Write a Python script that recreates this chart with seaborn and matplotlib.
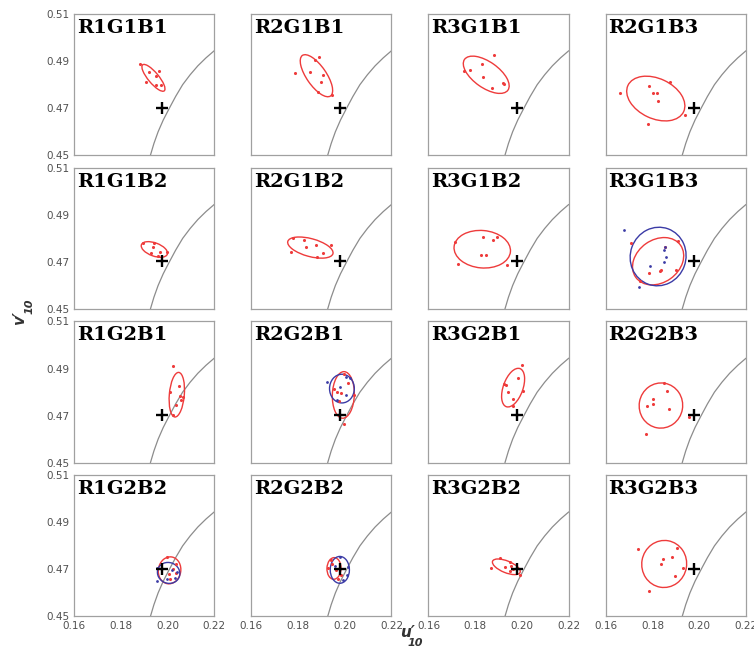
import matplotlib
matplotlib.use("Agg")
import matplotlib.pyplot as plt
from matplotlib.patches import Ellipse
import seaborn as sns
import pandas as pd

# ---------------- data ----------------
panel_names = ["R1G1B1", "R2G1B1", "R3G1B1", "R2G1B3",
               "R1G1B2", "R2G1B2", "R3G1B2", "R3G1B3",
               "R1G2B1", "R2G2B1", "R3G2B1", "R2G2B3",
               "R1G2B2", "R2G2B2", "R3G2B2", "R3G2B3"]

x_ticks = [0.16, 0.18, 0.20, 0.22]
y_ticks = [0.45, 0.47, 0.49, 0.51]
x_tick_labels = ["0.16", "0.18", "0.20", "0.22"]
y_tick_labels = ["0.45", "0.47", "0.49", "0.51"]

# white point (black plus)
white_u = 0.1978
white_v = 0.4702

# reference locus (gray curve)
locus_u = [0.1927, 0.1942, 0.1960, 0.1982, 0.2008, 0.2035, 0.2065, 0.2097, 0.2130, 0.2165, 0.2200]
locus_v = [0.4500, 0.4550, 0.4600, 0.4650, 0.4700, 0.4750, 0.4800, 0.4842, 0.4880, 0.4914, 0.4944]

red_u = [
    [0.1884, 0.1923, 0.1964, 0.1953, 0.1908, 0.1951, 0.1972],
    [0.1788, 0.1851, 0.1873, 0.1890, 0.1907, 0.1897, 0.1886, 0.1946],
    [0.1879, 0.1827, 0.1777, 0.1752, 0.1832, 0.1873, 0.1918, 0.1921],
    [0.1663, 0.1786, 0.1801, 0.1819, 0.1825, 0.1873, 0.1938, 0.1782],
    [0.1897, 0.1944, 0.1940, 0.1931, 0.1966, 0.1998, 0.1960],
    [0.1778, 0.1827, 0.1769, 0.1836, 0.1877, 0.1940, 0.1907, 0.1882],
    [0.1715, 0.1834, 0.1877, 0.1892, 0.1825, 0.1845, 0.1726, 0.1936],
    [0.1710, 0.1910, 0.1855, 0.1783, 0.1830, 0.1836, 0.1901, 0.1747],
    [0.2025, 0.2050, 0.2009, 0.2053, 0.2066, 0.2059, 0.2035, 0.2022],
    [0.1953, 0.1966, 0.1986, 0.1975, 0.2014, 0.1996, 0.2040, 0.1998],
    [0.2001, 0.1983, 0.1923, 0.1933, 0.1938, 0.2003, 0.1962, 0.1960],
    [0.1849, 0.1862, 0.1801, 0.1803, 0.1777, 0.1869, 0.1773, 0.1957],
    [0.2000, 0.2038, 0.2007, 0.2011, 0.2038, 0.2024],
    [0.1930, 0.1941, 0.1963, 0.1984, 0.1970, 0.1945],
    [0.1904, 0.1950, 0.1867, 0.1926, 0.1954, 0.1950, 0.1993, 0.1960],
    [0.1737, 0.1903, 0.1843, 0.1883, 0.1837, 0.1930, 0.1897, 0.1783],
]
red_v = [
    [0.4887, 0.4855, 0.4858, 0.4835, 0.4812, 0.4798, 0.4797],
    [0.4848, 0.4852, 0.4903, 0.4916, 0.4843, 0.4811, 0.4770, 0.4755],
    [0.4926, 0.4887, 0.4862, 0.4858, 0.4832, 0.4787, 0.4806, 0.4801],
    [0.4765, 0.4794, 0.4765, 0.4763, 0.4731, 0.4812, 0.4672, 0.4632],
    [0.4780, 0.4780, 0.4763, 0.4739, 0.4741, 0.4744, 0.4726],
    [0.4802, 0.4794, 0.4744, 0.4763, 0.4772, 0.4772, 0.4739, 0.4723],
    [0.4784, 0.4808, 0.4794, 0.4805, 0.4729, 0.4729, 0.4690, 0.4685],
    [0.4782, 0.4788, 0.4765, 0.4655, 0.4662, 0.4664, 0.4667, 0.4617],
    [0.4913, 0.4826, 0.4802, 0.4784, 0.4781, 0.4765, 0.4747, 0.4702],
    [0.4814, 0.4802, 0.4795, 0.4763, 0.4838, 0.4663, 0.4788, 0.4876],
    [0.4916, 0.4862, 0.4833, 0.4831, 0.4799, 0.4805, 0.4771, 0.4743],
    [0.4839, 0.4805, 0.4770, 0.4751, 0.4740, 0.4730, 0.4622, 0.4696],
    [0.4752, 0.4723, 0.4680, 0.4661, 0.4684, 0.4700],
    [0.4708, 0.4740, 0.4698, 0.4677, 0.4660, 0.4725],
    [0.4750, 0.4733, 0.4705, 0.4712, 0.4715, 0.4695, 0.4677, 0.4700],
    [0.4785, 0.4790, 0.4743, 0.4754, 0.4723, 0.4705, 0.4674, 0.4609],
]

blue_u = [[], [], [], [],
          [], [], [], [0.1680, 0.1854, 0.1851, 0.1858, 0.1851, 0.1789, 0.1741],
          [], [0.1923, 0.1979, 0.2005, 0.2024, 0.2007, 0.1966], [], [],
          [0.1956, 0.1956, 0.2021, 0.2031, 0.1996, 0.2040],
          [0.1981, 0.2012, 0.2008, 0.1991, 0.1958], [], []]
blue_v = [[], [], [], [],
          [], [], [], [0.4834, 0.4765, 0.4749, 0.4721, 0.4701, 0.4684, 0.4595],
          [], [0.4842, 0.4823, 0.4865, 0.4859, 0.4788, 0.4767], [], [],
          [0.4705, 0.4651, 0.4698, 0.4665, 0.4658, 0.4690],
          [0.4754, 0.4712, 0.4677, 0.4656, 0.4715], [], []]

# ellipses: (centre u, centre v, width, height, angle in degrees)
red_ellipses = [
    (0.1940, 0.4829, 0.0144, 0.0045, -50),
    (0.1879, 0.4838, 0.0210, 0.0084, -55),
    (0.1847, 0.4842, 0.0227, 0.0110, -35),
    (0.1814, 0.4741, 0.0263, 0.0170, -25),
    (0.1944, 0.4753, 0.0118, 0.0056, -20),
    (0.1853, 0.4761, 0.0200, 0.0076, -15),
    (0.1830, 0.4754, 0.0242, 0.0159, -5),
    (0.1824, 0.4703, 0.0235, 0.0182, 35),
    (0.2040, 0.4789, 0.0190, 0.0064, 85),
    (0.1994, 0.4788, 0.0198, 0.0094, 88),
    (0.1962, 0.4819, 0.0172, 0.0084, 70),
    (0.1836, 0.4743, 0.0192, 0.0186, 80),
    (0.2009, 0.4696, 0.0115, 0.0096, 80),
    (0.1954, 0.4704, 0.0092, 0.0060, 88),
    (0.1933, 0.4711, 0.0127, 0.0050, -22),
    (0.1850, 0.4723, 0.0200, 0.0192, 80),
]
blue_ellipses = [None, None, None, None,
                 None, None, None, (0.1824, 0.4723, 0.0250, 0.0238, 70),
                 None, (0.1988, 0.4815, 0.0122, 0.0106, 90), None, None,
                 (0.2005, 0.4685, 0.0097, 0.0088, -20),
                 (0.1979, 0.4698, 0.0114, 0.0082, 90), None, None]

# ---------------- style ----------------
RED = "#ee3b3b"
BLUE = "#3b3ba6"
GRAY_SPINE = "#a0a0a0"

sns.set_theme(style="white")
plt.rcParams["font.family"] = ["DejaVu Sans"]

fig, axes = plt.subplots(4, 4, figsize=(7.54, 6.55), dpi=100)
fig.subplots_adjust(left=0.0981, right=0.9894, top=0.9786, bottom=0.0588,
                    wspace=0.264, hspace=0.088)

locus_df = pd.DataFrame({"u": locus_u, "v": locus_v})

for i, ax in enumerate(axes.flat):
    r, c = divmod(i, 4)
    ax.set_facecolor("white")
    sns.lineplot(data=locus_df, x="u", y="v", sort=False, ax=ax,
                 color="#8c8c8c", linewidth=0.9, zorder=1)
    ax.plot([white_u], [white_v], marker="+", color="black",
            markersize=8, markeredgewidth=1.7, linestyle="none", zorder=5)

    rd = pd.DataFrame({"u": red_u[i], "v": red_v[i]})
    sns.scatterplot(data=rd, x="u", y="v", ax=ax, color=RED, s=5,
                    linewidth=0, zorder=4)
    cu, cv, w, h, a = red_ellipses[i]
    ax.add_patch(Ellipse((cu, cv), w, h, angle=a, fill=False,
                         edgecolor=RED, linewidth=1.0, zorder=3))
    if blue_u[i]:
        bd = pd.DataFrame({"u": blue_u[i], "v": blue_v[i]})
        sns.scatterplot(data=bd, x="u", y="v", ax=ax, color=BLUE, s=4,
                        linewidth=0, zorder=4)
    if blue_ellipses[i] is not None:
        cu, cv, w, h, a = blue_ellipses[i]
        ax.add_patch(Ellipse((cu, cv), w, h, angle=a, fill=False,
                             edgecolor=BLUE, linewidth=1.0, zorder=3))

    ax.set_xlim(0.16, 0.22)
    ax.set_ylim(0.45, 0.51)
    ax.set_xticks(x_ticks)
    ax.set_yticks(y_ticks)
    ax.set_xticklabels(x_tick_labels if r == 3 else [])
    ax.set_yticklabels(y_tick_labels if c == 0 else [])
    ax.tick_params(direction="in", length=3, width=0.6, colors=GRAY_SPINE,
                   labelcolor="#505050", labelsize=7.5, pad=3)
    ax.set_xlabel("")
    ax.set_ylabel("")
    for sp in ax.spines.values():
        sp.set_color(GRAY_SPINE)
        sp.set_linewidth(0.9)
        sp.set_visible(True)
    ax.text(0.02, 0.965, panel_names[i], transform=ax.transAxes,
            ha="left", va="top", fontsize=14, fontweight="bold",
            family="DejaVu Serif", color="black")

# axis labels: u'_10 and v'_10 (bold italic, subscript as a smaller text)
lab_kw = dict(fontweight="bold", fontstyle="italic", color="#333333")
W, H = 754.0, 655.0
fig.text(400 / W, 1 - 637 / H, "u\u2032", ha="left", va="baseline",
         fontsize=11, **lab_kw)
fig.text(408 / W, 1 - 646 / H, "10", ha="left", va="baseline",
         fontsize=8, **lab_kw)
fig.text(24 / W, 1 - 325 / H, "v\u2032", ha="left", va="baseline",
         rotation=90, rotation_mode="anchor", fontsize=11, **lab_kw)
fig.text(33 / W, 1 - 314 / H, "10", ha="left", va="baseline",
         rotation=90, rotation_mode="anchor", fontsize=8, **lab_kw)

fig.savefig("out.png", dpi=100)
